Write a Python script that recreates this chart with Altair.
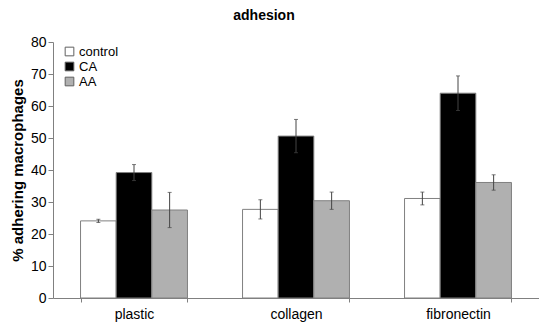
import altair as alt
import pandas as pd

substrates = ["plastic", "collagen", "fibronectin"]
groups = ["control", "CA", "AA"]
means = {
    "control": [24.1, 27.7, 31.1],
    "CA": [39.2, 50.6, 64.0],
    "AA": [27.5, 30.4, 36.1],
}
errors = {
    "control": [0.5, 3.0, 2.0],
    "CA": [2.5, 5.2, 5.4],
    "AA": [5.5, 2.7, 2.4],
}
colors = ["#ffffff", "#000000", "#b0b0b0"]

rows = []
for g in groups:
    for i, s in enumerate(substrates):
        m = means[g][i]
        e = errors[g][i]
        rows.append({"substrate": s, "group": g, "value": m, "lo": m - e, "hi": m + e})
df = pd.DataFrame(rows)

font = "Liberation Sans"

x = alt.X("substrate:N", sort=substrates, title=None,
          scale=alt.Scale(paddingInner=0.34, paddingOuter=0.17),
          axis=alt.Axis(labelAngle=0, labelFontSize=14, labelColor="black",
                        labelPadding=5, tickBand="extent", tickSize=4,
                        domainColor="#808080", tickColor="#808080", labelFont=font))
xo = alt.XOffset("group:N", sort=groups, scale=alt.Scale(paddingInner=0, paddingOuter=0))
yscale = alt.Scale(domain=[0, 80], nice=False)
yaxis = alt.Axis(values=list(range(0, 81, 10)), grid=False, labelFontSize=14,
                 labelColor="black", tickSize=5, labelPadding=2,
                 labelOverlap=False,
                 domainColor="#808080", tickColor="#808080",
                 titleFontSize=15, titleFontWeight="bold", titlePadding=5,
                 labelFont=font, titleFont=font)
ytitle = "% adhering macrophages"

bars = alt.Chart(df).mark_bar(stroke="#808080", strokeWidth=1).encode(
    x=x,
    xOffset=xo,
    y=alt.Y("value:Q", title=ytitle, scale=yscale, axis=yaxis),
    fill=alt.Fill("group:N", sort=groups,
                  scale=alt.Scale(domain=groups, range=colors),
                  legend=alt.Legend(title=None, orient="none", legendX=10, legendY=3,
                                    symbolType="square", symbolSize=75,
                                    symbolStrokeColor="#606060", symbolStrokeWidth=1,
                                    labelFontSize=13, labelFont=font, labelColor="black",
                                    rowPadding=1, padding=0, labelOffset=3)),
)

rules = alt.Chart(df).mark_rule(color="#444444", strokeWidth=1).encode(
    x=x, xOffset=xo, y=alt.Y("lo:Q", title=ytitle, scale=yscale, axis=yaxis), y2="hi:Q")

cap_hi = alt.Chart(df).mark_tick(color="#444444", thickness=1, size=4, orient="horizontal").encode(
    x=x, xOffset=xo, y=alt.Y("hi:Q", title=ytitle, scale=yscale, axis=yaxis))
cap_lo = alt.Chart(df).mark_tick(color="#444444", thickness=1, size=4, orient="horizontal").encode(
    x=x, xOffset=xo, y=alt.Y("lo:Q", title=ytitle, scale=yscale, axis=yaxis))

chart = alt.layer(bars, rules, cap_hi, cap_lo).properties(
    width=486, height=256,
    autosize=alt.AutoSizeParams(type="none"),
    padding={"left": 45, "top": 34, "right": 0, "bottom": 26},
    title=alt.TitleParams("adhesion", fontSize=14, fontWeight="bold", font=font,
                          offset=12, dx=-32, color="black"),
).configure_view(stroke=None).configure_axis(titleColor="black")

chart.save("out.html", embed_options={"renderer": "svg", "actions": False})
